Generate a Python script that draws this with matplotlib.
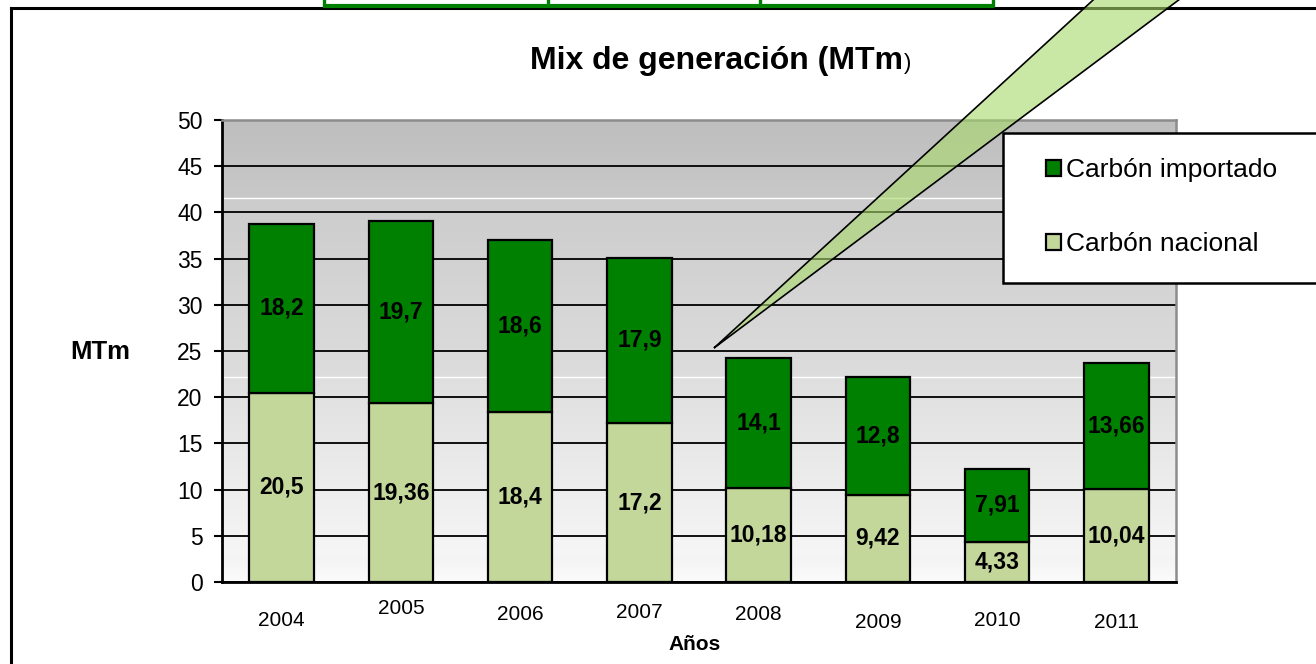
import numpy as np
import matplotlib
matplotlib.use("Agg")
import matplotlib.pyplot as plt
import matplotlib.transforms as mtransforms
from matplotlib.patches import Polygon, Rectangle
from matplotlib.lines import Line2D

plt.rcParams['font.family'] = ['Liberation Sans', 'DejaVu Sans']

# Datos (MTm)
anios = ['2004', '2005', '2006', '2007', '2008', '2009', '2010', '2011']
carbon_nacional = [20.5, 19.36, 18.4, 17.2, 10.18, 9.42, 4.33, 10.04]
carbon_importado = [18.2, 19.7, 18.6, 17.9, 14.1, 12.8, 7.91, 13.66]

# posicion vertical (px) de cada etiqueta de año, como en el original
y_etiquetas = [620, 609, 614, 613, 614, 622, 620, 623]

W, H = 1316, 664
fig = plt.figure(figsize=(W / 100, H / 100), dpi=100)
fig.patch.set_facecolor('white')

def fx(px):
    return px / W

def fy(py):
    return 1 - py / H

ax = fig.add_axes([fx(222), fy(582), fx(1176) - fx(222), fy(120) - fy(582)])

# Fondo degradado gris
stops_v = [0, 2.6, 2.7, 22.1, 22.3, 41.5, 41.7, 50]
stops_g = [0.985, 0.955, 0.965, 0.875, 0.865, 0.80, 0.785, 0.745]
vals = np.linspace(50, 0, 300)
grad = np.interp(vals, stops_v, stops_g)
img = np.repeat(grad[:, None], 2, axis=1)
ax.imshow(np.dstack([img, img, img]), extent=(-0.5, 7.5, 0, 50), aspect='auto', zorder=0)
for v in [41.6, 22.2]:
    ax.axhline(v, color='white', lw=1.0, zorder=0.3)

x = np.arange(len(anios))
ancho = 0.54
b1 = ax.bar(x, carbon_nacional, ancho, color='#c4d79b', edgecolor='black', linewidth=1.6,
            label='Carbón nacional', zorder=2)
b2 = ax.bar(x, carbon_importado, ancho, bottom=carbon_nacional, color='#008000',
            edgecolor='black', linewidth=1.6, label='Carbón importado', zorder=2)

# Etiquetas de datos
for i in range(len(anios)):
    n = carbon_nacional[i]
    m = carbon_importado[i]
    ax.text(x[i], n / 2, str(n).replace('.', ','), ha='center', va='center',
            fontsize=16.5, fontweight='bold', zorder=3)
    ax.text(x[i], n + m / 2, str(m).replace('.', ','), ha='center', va='center',
            fontsize=16.5, fontweight='bold', zorder=3)

ax.set_xlim(-0.5, 7.5)
ax.set_ylim(0, 50)
ax.set_yticks(range(0, 51, 5))
ax.tick_params(axis='y', direction='out', length=6, width=1.5, pad=8, labelsize=16.5)
ax.set_xticks([])
ax.set_axisbelow(True)
ax.yaxis.grid(True, color='black', linewidth=1.3)

ax.spines['left'].set_linewidth(2)
ax.spines['bottom'].set_linewidth(2)
ax.spines['top'].set_color('#8c8c8c')
ax.spines['top'].set_linewidth(1.8)
ax.spines['right'].set_color('#8c8c8c')
ax.spines['right'].set_linewidth(1.8)

# Etiquetas de años (cajas de texto sueltas)
trans = mtransforms.blended_transform_factory(ax.transData, fig.transFigure)
for i, a in enumerate(anios):
    ax.text(x[i], fy(y_etiquetas[i]), a, transform=trans,
            ha='center', va='center', fontsize=15)

fig.text(fx(695), fy(645), 'Años', ha='center', va='center', fontsize=15, fontweight='bold')
fig.text(fx(100), fy(352), 'MTm', ha='center', va='center', fontsize=18.5, fontweight='bold')

# Titulo
fig.text(fx(903), fy(69), 'Mix de generación (MTm', ha='right', va='baseline',
         fontsize=23, fontweight='bold')
fig.text(fx(904), fy(69), ')', ha='left', va='baseline', fontsize=16)

# Marco exterior
fig.add_artist(Line2D([fx(11), 1.01], [fy(8), fy(8)], color='black', lw=2.2,
                      transform=fig.transFigure))
fig.add_artist(Line2D([fx(11), fx(11)], [fy(8), -0.01], color='black', lw=2.2,
                      transform=fig.transFigure))

# Restos de la tabla verde de arriba
fig.add_artist(Line2D([fx(323), fx(994)], [fy(6), fy(6)], color='#008000', lw=3,
                      transform=fig.transFigure, solid_capstyle='butt'))
for px in [324, 548, 760, 993]:
    fig.add_artist(Line2D([fx(px), fx(px)], [fy(-2), fy(7)], color='#008000', lw=2.4,
                          transform=fig.transFigure, solid_capstyle='butt'))

# Llamada (triangulo verde)
puntos = [[fx(714), fy(348)], [fx(1104), fy(-10)], [fx(1192), fy(-10)]]
fig.add_artist(Polygon(puntos, closed=True, facecolor='#a8d96a', alpha=0.6, edgecolor='none',
                       transform=fig.transFigure, zorder=4))
fig.add_artist(Polygon(puntos, closed=True, facecolor='none', edgecolor='black', lw=1.2,
                       transform=fig.transFigure, zorder=4.1))

# Leyenda
caja = Rectangle((fx(1003), fy(283)), fx(1340) - fx(1003), fy(133) - fy(283),
                 facecolor='white', edgecolor='black', lw=1.8, transform=fig.transFigure, zorder=4.5)
fig.add_artist(caja)
leg = fig.legend([b2, b1], ['Carbón importado', 'Carbón nacional'], loc='upper left',
                 bbox_to_anchor=(fx(1046), fy(158)), frameon=False, fontsize=19,
                 handlelength=0.57, handleheight=0.57, handletextpad=0.2,
                 labelspacing=1.9, borderpad=0, borderaxespad=0)
leg.set_zorder(5)

fig.savefig('out.png', dpi=100)
